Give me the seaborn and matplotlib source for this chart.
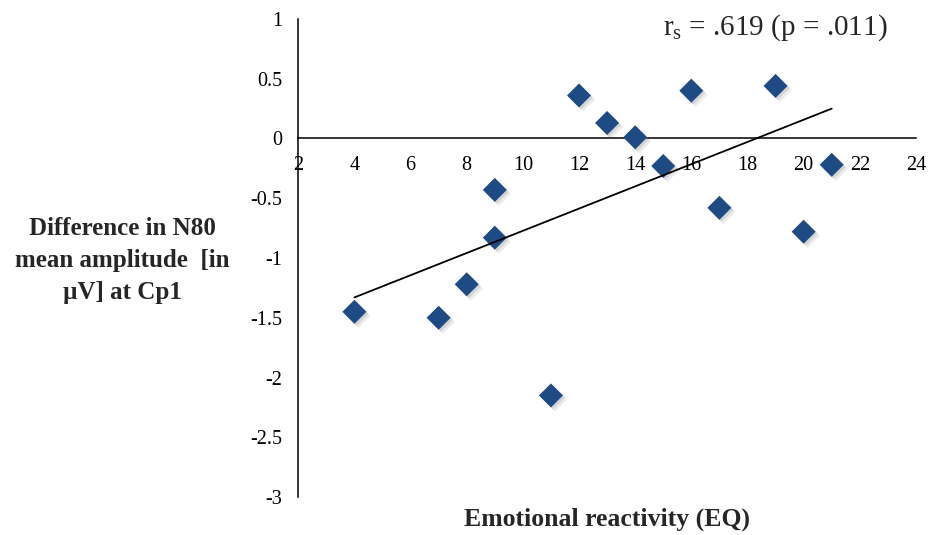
import matplotlib
matplotlib.use("Agg")
import matplotlib.pyplot as plt
import matplotlib.patheffects as pe
import seaborn as sns
import pandas as pd

# Emotional reactivity (EQ) score per participant
eq_score = [4, 7, 8, 9, 9, 11, 12, 13, 14, 15, 16, 17, 19, 20, 21]
# Difference in N80 mean amplitude [µV] at Cp1
n80_diff = [-1.45, -1.50, -1.22, -0.43, -0.83, -2.15, 0.36, 0.13, 0.01,
            -0.23, 0.40, -0.58, 0.44, -0.78, -0.22]

# Linear trend line end points
trend_x = [4, 21]
trend_y = [-1.33, 0.25]

x_ticks = [2, 4, 6, 8, 10, 12, 14, 16, 18, 20, 22, 24]
y_ticks = [1, 0.5, 0, -0.5, -1, -1.5, -2, -2.5, -3]
y_tick_labels = ["1", "0.5", "0", "-0.5", "-1", "-1.5", "-2", "-2.5", "-3"]

stat_text = r"$\mathregular{r_s}$ = .619 (p = .011)"
x_title = "Emotional reactivity (EQ)"
y_title = "Difference in N80\nmean amplitude  [in\nµV] at Cp1"

sns.set_style("white")
plt.rcParams["font.family"] = ["Liberation Serif", "DejaVu Serif"]
plt.rcParams["mathtext.fontset"] = "custom"
plt.rcParams["mathtext.rm"] = "Liberation Serif"

points = pd.DataFrame({"eq": eq_score, "n80": n80_diff})
trend = pd.DataFrame({"eq": trend_x, "n80": trend_y})

fig = plt.figure(figsize=(9.35, 5.35), dpi=100)
ax = fig.add_axes([0.319, 0.071, 0.6606, 0.8935])

marker_color = "#1F4B85"
sns.scatterplot(data=points, x="eq", y="n80", marker="D", s=150,
                color=marker_color, edgecolor="none", linewidth=0,
                zorder=3, ax=ax)
for coll in ax.collections:
    coll.set_path_effects([
        pe.SimplePatchShadow(offset=(3, -3), shadow_rgbFace="#808080", alpha=0.15),
        pe.SimplePatchShadow(offset=(1.5, -1.5), shadow_rgbFace="#808080", alpha=0.22),
        pe.Normal(),
    ])

sns.lineplot(data=trend, x="eq", y="n80", color="black", linewidth=1.3,
             zorder=4, ax=ax)

ax.set_xlim(2, 24)
ax.set_ylim(-3, 1)

for side in ("top", "right"):
    ax.spines[side].set_visible(False)
ax.spines["bottom"].set_position(("data", 0))
for side in ("left", "bottom"):
    ax.spines[side].set_color("black")
    ax.spines[side].set_linewidth(1.1)
    ax.spines[side].set_zorder(2)

ax.set_xticks(x_ticks)
ax.set_xticklabels([str(v) for v in x_ticks])
ax.set_yticks(y_ticks)
ax.set_yticklabels(y_tick_labels)
ax.tick_params(axis="x", direction="out", length=4.3, width=1.1, pad=8.5,
               labelsize=14.5, colors="black")
ax.tick_params(axis="y", direction="out", length=4.8, width=1.1, pad=7,
               labelsize=14.5, colors="black")
ax.grid(False)

ax.set_xlabel("")
ax.set_ylabel("")

fig.text(607 / 935, 1 - 525.7 / 535, x_title, ha="center", va="baseline",
         fontsize=18.5, fontweight="bold")
fig.text(122 / 935, 1 - 260 / 535, y_title, ha="center", va="center",
         multialignment="center", fontsize=18, fontweight="bold",
         linespacing=1.5)
fig.text(663 / 935, 1 - 35 / 535, stat_text, ha="left", va="baseline",
         fontsize=21)

fig.savefig("out.png", dpi=100)
